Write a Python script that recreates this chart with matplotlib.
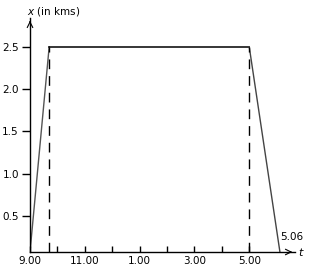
import numpy as np
import matplotlib.pyplot as plt

# time in hours after 9.00, distance in km
t = [0.0, 0.7, 8.0, 9.12]
x = [0.074, 2.5, 2.5, 0.074]
dash_t = [0.7, 8.0]
tick_pos = [0, 1, 2, 3, 4, 5, 6, 7, 8]
tick_lab = ['9.00', '', '11.00', '', '1.00', '', '3.00', '', '5.00']
yticks = [0.5, 1.0, 1.5, 2.0, 2.5]

fig = plt.figure(figsize=(3.14, 2.75), dpi=100)
ax = fig.add_axes([30/314, 1-252/275, (295-30)/314, (252-18)/275])
ax.set_xlim(0, 9.67)
ax.set_ylim(0.074, 2.84)

ax.plot(t[:2], x[:2], color='#555555', lw=1)
ax.plot(t[1:3], x[1:3], color='black', lw=1.1)
ax.plot(t[2:], x[2:], color='#444444', lw=1)
for d in dash_t:
    ax.plot([d, d], [0.074, 2.5], color='black', lw=1, dashes=(7, 5))

for s in ['top', 'right']:
    ax.spines[s].set_visible(False)
for s in ['left', 'bottom']:
    ax.spines[s].set_linewidth(1)

ax.plot(1, 0, marker=(3, 0, -90), ms=0, transform=ax.transAxes)
ax.annotate('', xy=(1.0, 0), xytext=(0.97, 0), xycoords='axes fraction',
            arrowprops=dict(arrowstyle='->', lw=0.8, color='black'))
ax.annotate('', xy=(0, 1.0), xytext=(0, 0.97), xycoords='axes fraction',
            arrowprops=dict(arrowstyle='->', lw=0.8, color='black'))

ax.set_xticks(tick_pos)
ax.set_xticklabels(tick_lab)
ax.set_yticks(yticks)
ax.set_yticklabels(['%.1f' % v for v in yticks])
ax.tick_params(axis='x', direction='in', length=4, width=1, labelsize=7.5, pad=3)
ax.tick_params(axis='y', direction='out', length=6, width=1, labelsize=7.5, pad=2)

fig.text(27/314, 1-12/275, r'$x$ (in kms)', fontsize=7.5, va='center', ha='left')
fig.text(298/314, 1-252/275, r'$t$', fontsize=8, va='center', ha='left')
ax.text(9.12, 0.25, '5.06', fontsize=7.5, ha='left', va='center')

fig.savefig('out.png', dpi=100)
